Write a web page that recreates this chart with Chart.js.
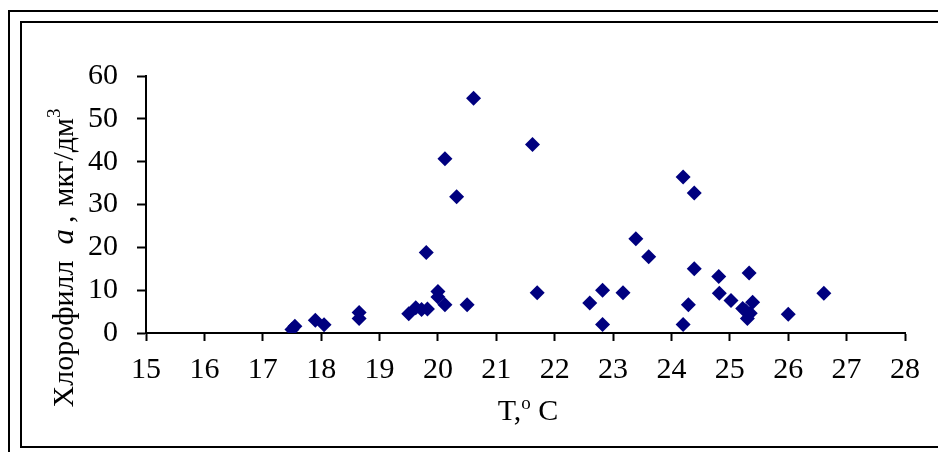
<!DOCTYPE html>
<html>
<head>
<meta charset="utf-8">
<script src="https://cdn.jsdelivr.net/npm/chart.js@4/dist/chart.umd.min.js"></script>
<style>
  body { margin: 0; background: #fff; }
  #wrap { width: 938px; height: 452px; }
</style>
</head>
<body>
<div id="wrap"><canvas id="myChart" width="938" height="452"></canvas></div>
<script>
// temperature, deg C
let aTemp = [17.5, 17.55, 17.9, 18.05, 18.65, 18.65, 19.5, 19.62, 19.72, 19.82,
  19.8, 20.0, 20.0, 20.12, 20.12, 20.32, 20.5, 20.61, 21.62, 21.7,
  22.6, 22.82, 22.82, 23.17, 23.39, 23.61, 24.2, 24.39, 24.39, 24.2,
  24.29, 24.81, 24.82, 25.02, 25.22, 25.33, 25.39, 25.35, 25.3, 25.27,
  26.0, 26.61];
// chlorophyll a, mkg/dm3
let aChl = [0.8, 1.6, 3.0, 1.9, 4.8, 3.4, 4.5, 5.9, 5.5, 5.6,
  18.8, 9.7, 8.4, 6.6, 40.7, 31.8, 6.6, 54.8, 44.0, 9.4,
  7.0, 10.0, 2.0, 9.4, 22.0, 17.8, 36.4, 32.7, 15.0, 2.0,
  6.6, 13.2, 9.3, 7.6, 5.7, 14.0, 7.2, 4.6, 3.4, 5.2,
  4.4, 9.3];
let xTicks = [15, 16, 17, 18, 19, 20, 21, 22, 23, 24, 25, 26, 27, 28];
let yTicks = [0, 10, 20, 30, 40, 50, 60];

let sFont = '"Liberation Serif", "Times New Roman", serif';

let aPoints = [];
aTemp.forEach(function (t, i) {
  aPoints.push({x: t, y: aChl[i]});
});

// draws text made of several pieces with their own fonts
function drawPieces(c, aPieces, x0) {
  let x = x0;
  aPieces.forEach(function (p) {
    c.font = p.font;
    c.fillText(p.text, x, p.dy || 0);
    x += c.measureText(p.text).width + (p.gap || 0);
  });
}
function piecesWidth(c, aPieces) {
  let w = 0;
  aPieces.forEach(function (p) {
    c.font = p.font;
    w += c.measureText(p.text).width + (p.gap || 0);
  });
  return w;
}

let framePlugin = {
  id: 'frame',
  beforeDraw: function (chart) {
    let c = chart.ctx;
    c.save();
    c.fillStyle = '#fff';
    c.fillRect(0, 0, chart.width, chart.height);
    c.strokeStyle = '#000';
    c.lineWidth = 2;
    c.strokeRect(9, 11, 980, 480);
    c.strokeRect(21, 22, 960, 425);
    c.restore();
  },
  afterDraw: function (chart) {
    let c = chart.ctx;
    c.save();
    c.fillStyle = '#000';
    c.textBaseline = 'alphabetic';
    c.textAlign = 'left';

    let yTitle = [
      {text: 'Хлорофилл', font: '30px ' + sFont, gap: 16},
      {text: 'a', font: 'italic 31px ' + sFont, gap: 6},
      {text: ',', font: '30px ' + sFont, gap: 9},
      {text: 'мкг/дм', font: '30px ' + sFont},
      {text: '3', font: '19px ' + sFont, dy: -13}
    ];
    c.translate(73, 258);
    c.rotate(-Math.PI / 2);
    drawPieces(c, yTitle, -piecesWidth(c, yTitle) / 2);
    c.restore();

    c.save();
    c.fillStyle = '#000';
    c.textBaseline = 'alphabetic';
    let xTitle = [
      {text: 'T,', font: '30px ' + sFont},
      {text: 'o', font: '19px ' + sFont, dy: -11},
      {text: ' C', font: '30px ' + sFont}
    ];
    c.translate(528, 420);
    drawPieces(c, xTitle, -piecesWidth(c, xTitle) / 2);
    c.restore();
  }
};

var ctx = document.getElementById('myChart').getContext('2d');

var myScatter = new Chart(ctx, {
  type: 'scatter',
  data: {
    datasets: [{
      label: 'Хлорофилл a',
      data: aPoints,
      pointStyle: 'rectRot',
      pointRadius: 7.5,
      backgroundColor: '#00007f',
      borderColor: '#00007f',
      borderWidth: 0
    }]
  },
  options: {
    responsive: false,
    animation: false,
    layout: {
      padding: {left: 0, right: 33, top: 76, bottom: 0}
    },
    plugins: {
      legend: {display: false},
      tooltip: {enabled: false}
    },
    scales: {
      x: {
        type: 'linear',
        min: xTicks[0],
        max: xTicks[xTicks.length - 1],
        afterBuildTicks: function (scale) {
          scale.ticks = xTicks.map(function (v) { return {value: v}; });
        },
        afterFit: function (scale) { scale.height = 119; },
        ticks: {
          color: '#000',
          font: {family: sFont, size: 30},
          padding: 11,
          maxRotation: 0
        },
        grid: {
          drawOnChartArea: false,
          tickLength: 8,
          tickColor: '#000',
          tickWidth: 2
        },
        border: {color: '#000', width: 2}
      },
      y: {
        type: 'linear',
        min: yTicks[0],
        max: yTicks[yTicks.length - 1],
        afterBuildTicks: function (scale) {
          scale.ticks = yTicks.map(function (v) { return {value: v}; });
        },
        afterFit: function (scale) { scale.width = 146; },
        ticks: {
          color: '#000',
          font: {family: sFont, size: 30},
          padding: 19
        },
        grid: {
          drawOnChartArea: false,
          tickLength: 9,
          tickColor: '#000',
          tickWidth: 2
        },
        border: {color: '#000', width: 2}
      }
    }
  },
  plugins: [framePlugin]
});
</script>
</body>
</html>
